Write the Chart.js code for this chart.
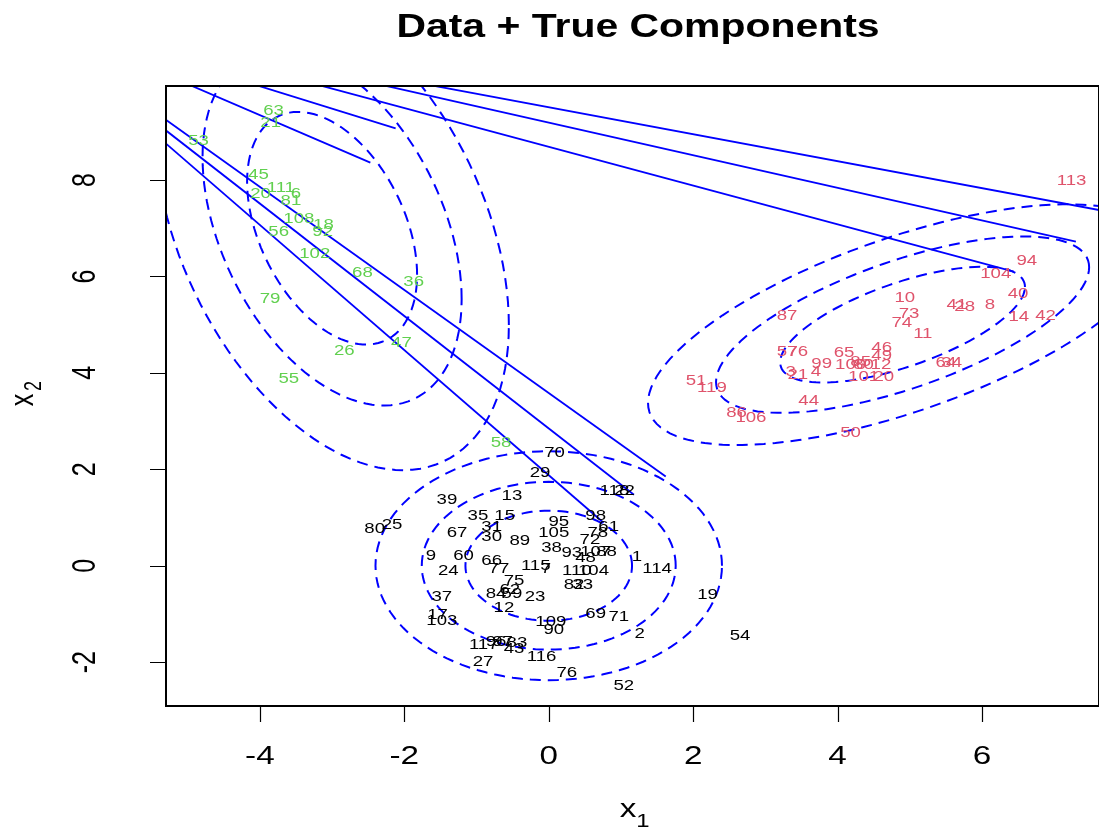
<!DOCTYPE html>
<html>
<head>
<meta charset="utf-8">
<script src="https://cdn.jsdelivr.net/npm/chart.js@4/dist/chart.umd.min.js"></script>
<style>html,body{margin:0;padding:0;background:#fff;overflow:hidden}</style>
</head>
<body>
<canvas id="myChart" width="1099" height="829"></canvas>
<script>
var blackLabels = ['70','29','13','39','35','15','31','30','67','89','80','25','95','105','38','9','60','66','24','77','115','7','75','98','61','78','72','93','48','107','88','1','114','110','104','82','33','37','84','62','59','23','12','17','103','109','90','69','71','2','19','54','117','96','97','83','43','116','27','76','52','118','22'];
var blackX = [0.08,-0.12,-0.51,-1.41,-0.98,-0.61,-0.79,-0.79,-1.27,-0.40,-2.41,-2.17,0.14,0.07,0.04,-1.63,-1.18,-0.79,-1.39,-0.69,-0.18,-0.04,-0.48,0.65,0.83,0.68,0.57,0.32,0.51,0.65,0.80,1.22,1.50,0.39,0.62,0.35,0.47,-1.48,-0.73,-0.54,-0.51,-0.19,-0.62,-1.54,-1.48,0.03,0.07,0.65,0.97,1.26,2.20,2.65,-0.90,-0.73,-0.64,-0.44,-0.48,-0.10,-0.91,0.25,1.04,0.91,1.05];
var blackY = [2.34,1.93,1.45,1.35,1.02,1.02,0.81,0.60,0.68,0.50,0.75,0.85,0.91,0.68,0.37,0.19,0.19,0.10,-0.12,-0.08,0.00,-0.08,-0.31,1.02,0.81,0.68,0.54,0.27,0.15,0.29,0.29,0.17,-0.08,-0.12,-0.12,-0.41,-0.41,-0.66,-0.58,-0.50,-0.58,-0.66,-0.89,-1.02,-1.16,-1.18,-1.33,-1.00,-1.06,-1.41,-0.62,-1.47,-1.64,-1.58,-1.58,-1.60,-1.74,-1.89,-1.99,-2.22,-2.49,1.54,1.54];

var redLabels = ['113','94','104','40','10','41','28','8','73','74','14','42','11','46','49','87','57','76','65','99','3','21','4','100','85','80','12','101','20','64','34','51','119','44','86','106','50'];
var redX = [7.24,6.62,6.19,6.50,4.93,5.65,5.76,6.11,4.99,4.89,6.51,6.88,5.18,4.61,4.61,3.30,3.30,3.45,4.09,3.78,3.35,3.45,3.70,4.18,4.32,4.36,4.60,4.36,4.64,5.50,5.58,2.04,2.26,3.60,2.60,2.80,4.18];
var redY = [7.97,6.31,6.04,5.64,5.56,5.41,5.37,5.41,5.21,5.04,5.15,5.17,4.81,4.52,4.34,5.17,4.42,4.44,4.40,4.19,4.02,3.96,4.02,4.15,4.23,4.15,4.17,3.92,3.92,4.21,4.21,3.82,3.69,3.42,3.17,3.07,2.76];

var greenLabels = ['63','21','53','45','111','6','20','81','108','18','92','56','102','68','36','79','26','47','55','58'];
var greenX = [-3.81,-3.85,-4.85,-4.02,-3.71,-3.50,-3.99,-3.57,-3.46,-3.12,-3.13,-3.74,-3.24,-2.58,-1.87,-3.86,-2.83,-2.04,-3.60,-0.66];
var greenY = [9.42,9.19,8.80,8.11,7.84,7.70,7.70,7.57,7.18,7.07,6.91,6.91,6.47,6.06,5.89,5.52,4.46,4.61,3.88,2.55];

// true components: means, sds, correlation
var compMeanX = [0, 4.9, -3.0];
var compMeanY = [0, 5.0, 7.0];
var compSdX = [0.98, 1.44, 1.0];
var compSdY = [0.97, 1.02, 2.05];
var compRho = [0, 0.65, -0.4];
// contour radii (50%, 80%, 95% levels)
var contourRadius = [1.177, 1.794, 2.448];

// solid segments
var segX0 = [-5.32,-5.32,-5.32,-5.14,-4.29,-2.04,-2.63,-3.46];
var segY0 = [9.27,9.05,8.78,10.08,10.08,10.08,10.08,10.08];
var segX1 = [1.62,1.18,0.76,-2.47,-2.12,7.90,7.30,6.44];
var segY1 = [1.85,1.47,0.89,8.36,9.07,7.30,6.72,6.10];

var xTicks = [-4, -2, 0, 2, 4, 6];
var yTicks = [-2, 0, 2, 4, 6, 8];

var SX = 1.33; // text in the picture is stretched sideways
var FONT = "'Liberation Sans', Arial, sans-serif";

function toPoints(xs, ys) {
    var pts = [];
    for (var i = 0; i < xs.length; i++) pts.push({ x: xs[i], y: ys[i] });
    return pts;
}

function contour(k, r) {
    var pts = [];
    var c = Math.sqrt(1 - compRho[k] * compRho[k]);
    for (var i = 0; i <= 120; i++) {
        var t = i / 120 * 2 * Math.PI;
        pts.push({
            x: compMeanX[k] + r * compSdX[k] * Math.cos(t),
            y: compMeanY[k] + r * compSdY[k] * (compRho[k] * Math.cos(t) + c * Math.sin(t))
        });
    }
    return pts;
}

var datasets = [];
for (var k = 0; k < compMeanX.length; k++) {
    for (var j = 0; j < contourRadius.length; j++) {
        datasets.push({
            data: contour(k, contourRadius[j]),
            showLine: true, pointRadius: 0,
            borderColor: '#0000FF', borderWidth: 2, borderDash: [11, 7]
        });
    }
}
for (var s = 0; s < segX0.length; s++) {
    datasets.push({
        data: [{ x: segX0[s], y: segY0[s] }, { x: segX1[s], y: segY1[s] }],
        showLine: true, pointRadius: 0,
        borderColor: '#0000FF', borderWidth: 1.8
    });
}
datasets.push({ data: toPoints(blackX, blackY), pointRadius: 0, textLabels: blackLabels, textColor: '#000000' });
datasets.push({ data: toPoints(redX, redY), pointRadius: 0, textLabels: redLabels, textColor: '#DF536B' });
datasets.push({ data: toPoints(greenX, greenY), pointRadius: 0, textLabels: greenLabels, textColor: '#61D04F' });

function stretchedText(ctx, text, x, y, font, color, rotate, sx) {
    ctx.save();
    ctx.translate(x, y);
    ctx.scale(sx || SX, 1);
    if (rotate) ctx.rotate(-Math.PI / 2);
    ctx.font = font;
    ctx.fillStyle = color;
    ctx.textAlign = 'center';
    ctx.textBaseline = 'middle';
    ctx.fillText(text, 0, 0);
    ctx.restore();
}

var decorPlugin = {
    id: 'decor',
    afterDatasetsDraw: function(chart) {
        var ctx = chart.ctx;
        var area = chart.chartArea;
        var xs = chart.scales.x, ys = chart.scales.y;

        // labels at the points
        chart.data.datasets.forEach(function(ds, i) {
            if (!ds.textLabels) return;
            var meta = chart.getDatasetMeta(i);
            meta.data.forEach(function(el, n) {
                stretchedText(ctx, ds.textLabels[n], el.x, el.y, '14px ' + FONT, ds.textColor, false);
            });
        });

        // box
        ctx.save();
        ctx.strokeStyle = '#000';
        ctx.lineWidth = 2;
        ctx.strokeRect(area.left, area.top, area.right - area.left, area.bottom - area.top);

        // tick marks
        ctx.lineWidth = 1.2;
        ctx.beginPath();
        xTicks.forEach(function(v) {
            var px = Math.round(xs.getPixelForValue(v)) + 0.5;
            ctx.moveTo(px, area.bottom);
            ctx.lineTo(px, area.bottom + 16);
        });
        yTicks.forEach(function(v) {
            var py = Math.round(ys.getPixelForValue(v)) + 0.5;
            ctx.moveTo(area.left, py);
            ctx.lineTo(area.left - 16, py);
        });
        ctx.stroke();
        ctx.restore();

        xTicks.forEach(function(v) {
            stretchedText(ctx, String(v), xs.getPixelForValue(v), 757, '25px ' + FONT, '#000', false);
        });
        yTicks.forEach(function(v) {
            stretchedText(ctx, String(v), 86, ys.getPixelForValue(v), '25px ' + FONT, '#000', true);
        });

        // title
        stretchedText(ctx, 'Data + True Components', 638, 28, 'bold 33px ' + FONT, '#000', false, 1.24);

        // axis titles
        stretchedText(ctx, 'x', 628, 810, '25px ' + FONT, '#000', false);
        stretchedText(ctx, '1', 643, 822, '18px ' + FONT, '#000', false);
        stretchedText(ctx, 'x', 24, 400, '25px ' + FONT, '#000', true);
        stretchedText(ctx, '2', 34, 386, '18px ' + FONT, '#000', true);
    }
};

new Chart(document.getElementById('myChart'), {
    type: 'scatter',
    data: { datasets: datasets },
    options: {
        responsive: false,
        animation: false,
        devicePixelRatio: 1,
        layout: { padding: { left: 166, top: 86, right: 0, bottom: 123 } },
        scales: {
            x: { type: 'linear', min: -5.3, max: 7.62, display: false },
            y: { type: 'linear', min: -2.91, max: 9.95, display: false }
        },
        plugins: { legend: { display: false }, tooltip: { enabled: false } }
    },
    plugins: [decorPlugin]
});
</script>
</body>
</html>
